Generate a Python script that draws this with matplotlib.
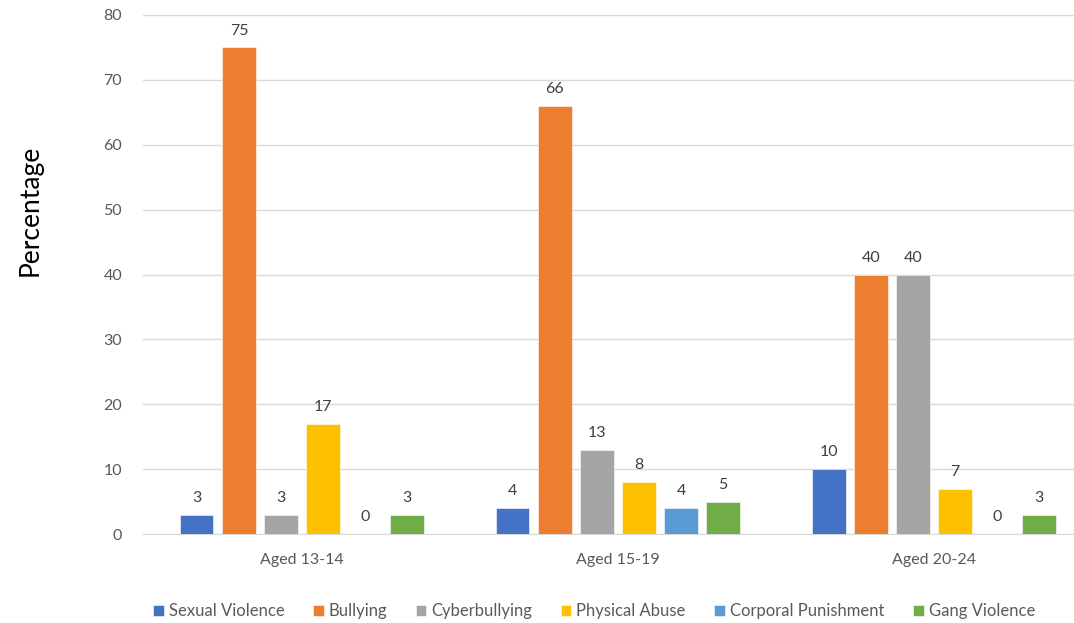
import numpy as np
import matplotlib.pyplot as plt

plt.rcParams['font.family'] = ['Lato', 'DejaVu Sans']

groups = ['Aged 13-14', 'Aged 15-19', 'Aged 20-24']
series = ['Sexual Violence', 'Bullying', 'Cyberbullying', 'Physical Abuse',
          'Corporal Punishment', 'Gang Violence']
sexual_violence = [3, 4, 10]
bullying = [75, 66, 40]
cyberbullying = [3, 13, 40]
physical_abuse = [17, 8, 7]
corporal_punishment = [0, 4, 0]
gang_violence = [3, 5, 3]
values = [sexual_violence, bullying, cyberbullying, physical_abuse,
          corporal_punishment, gang_violence]
colors = ['#4472C4', '#ED7D31', '#A5A5A5', '#FFC000', '#5B9BD5', '#70AD47']

fig = plt.figure(figsize=(10.74, 6.23), dpi=100)
ax = fig.add_axes([143 / 1074, 1 - 534 / 623, 1 - 143 / 1074, (534 - 15) / 623])

x = np.arange(len(groups))
step = 0.133
width = 0.105
for i, (name, vals, c) in enumerate(zip(series, values, colors)):
    pos = x + (i - 2.5) * step
    bars = ax.bar(pos, vals, width, color=c, label=name,
                  edgecolor='white', linewidth=0.4, zorder=3)
    for b, v in zip(bars, vals):
        ax.annotate(str(v), (b.get_x() + b.get_width() / 2, v),
                    xytext=(0, 7), textcoords='offset points',
                    ha='center', va='bottom', fontsize=11.5, color='#404040')

ax.set_xlim(-0.503, 2.443)
ax.set_ylim(0, 80)
ax.set_yticks(range(0, 81, 10))
ax.set_xticks(x)
ax.set_xticklabels(groups)
ax.grid(axis='y', color='#d9d9d9', linewidth=1, zorder=0)
for s in ax.spines.values():
    s.set_visible(False)
ax.spines['bottom'].set_visible(True)
ax.spines['bottom'].set_color('#d9d9d9')
ax.tick_params(axis='both', length=0, labelsize=11.5, colors='#595959')
ax.tick_params(axis='y', pad=15)
ax.tick_params(axis='x', pad=14)
ax.set_ylabel('Percentage', fontsize=19, color='black')
ax.yaxis.set_label_coords(-0.108, 0.624)

fig.legend(loc='center', bbox_to_anchor=(0.553, 1 - 611 / 623), ncol=6,
           frameon=False, fontsize=12, handlelength=0.65, handleheight=0.65,
           handletextpad=0.3, columnspacing=1.7, labelcolor='#595959')

fig.savefig('out.png', dpi=100)
